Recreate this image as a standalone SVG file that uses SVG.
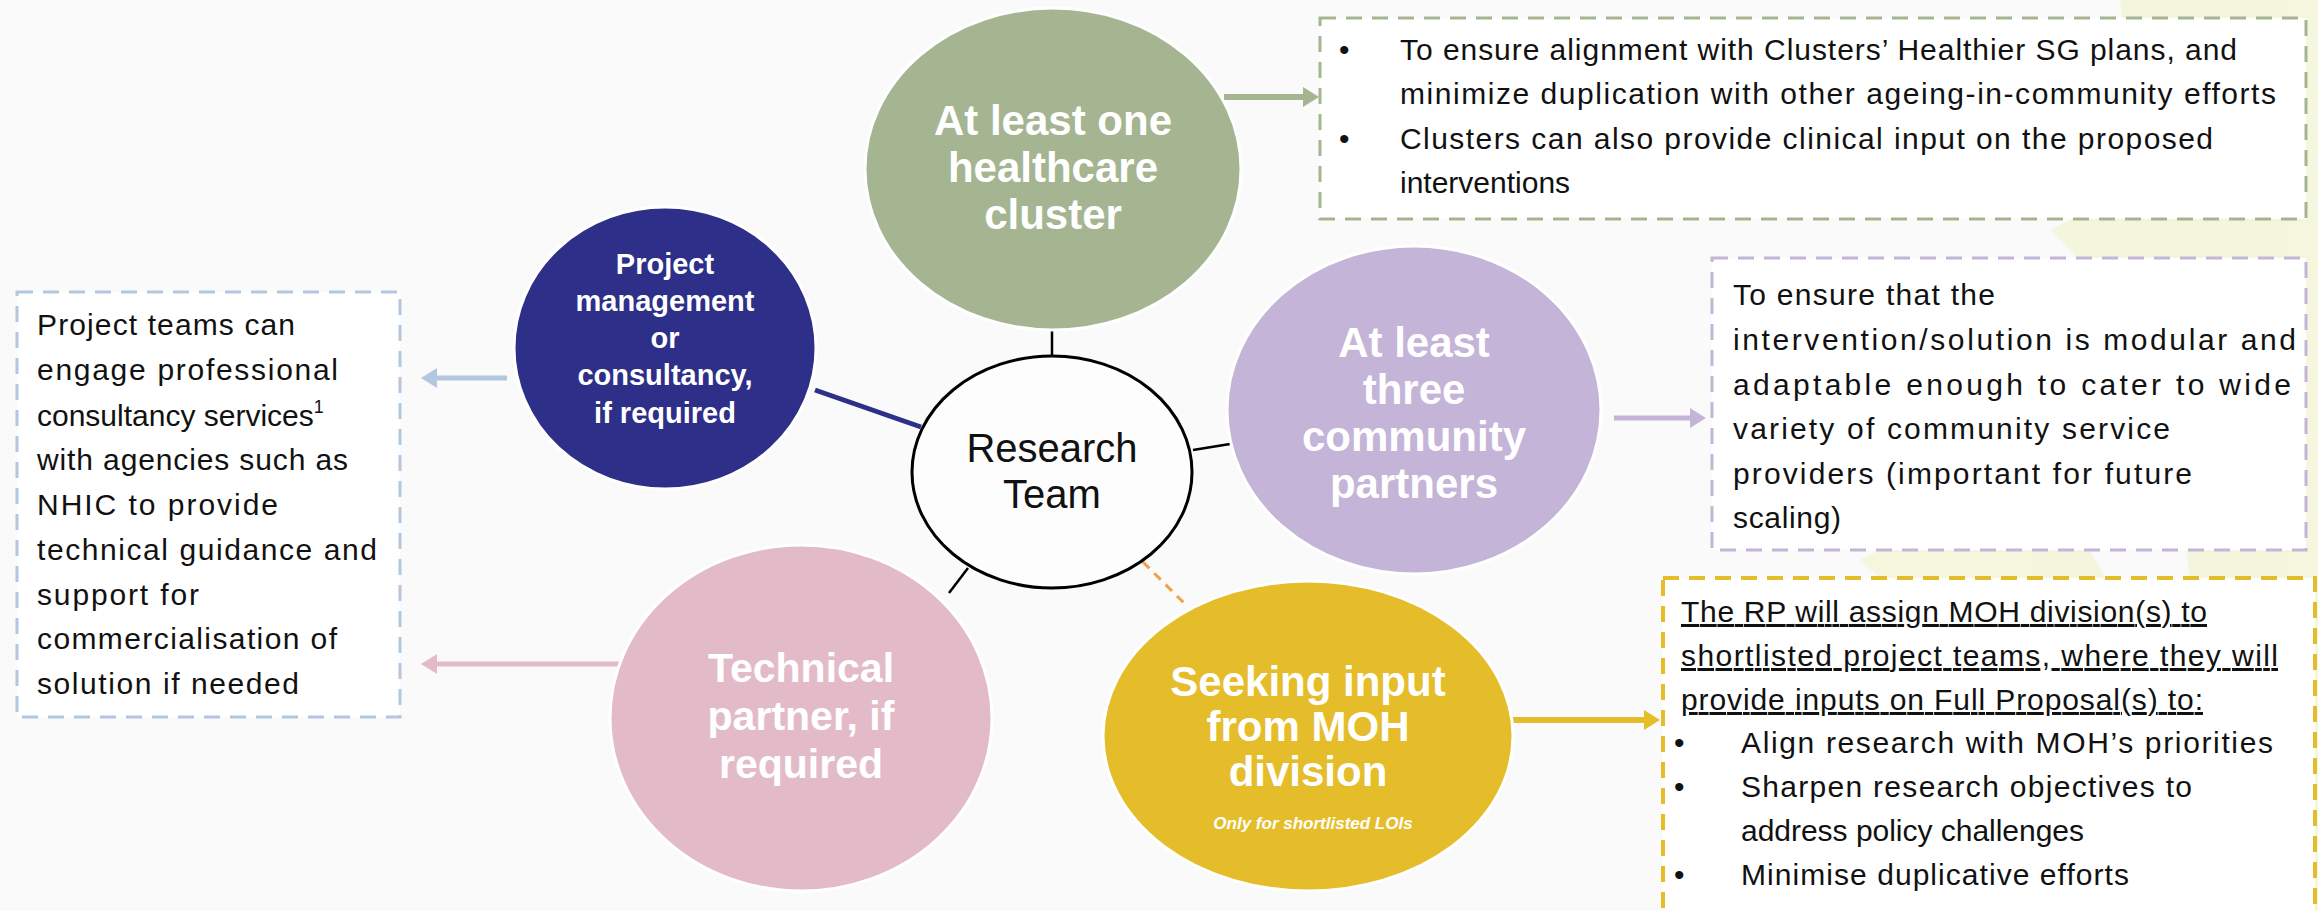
<svg xmlns="http://www.w3.org/2000/svg" width="2318" height="911" viewBox="0 0 2318 911">
<style>
.bx{font-family:"Liberation Sans",Arial,sans-serif;font-size:30px;fill:#111}
.lbl{font-family:"Liberation Sans",Arial,sans-serif;font-weight:bold;fill:#fff;text-anchor:middle}
.ul{text-decoration:underline}
.dash{fill:#fff;stroke-width:3;stroke-dasharray:16 10}
.node{stroke:#fff;stroke-width:3}
.conn{fill:none;stroke:#000;stroke-width:2.5}
</style>
<defs>
<marker id="ahG" viewBox="0 0 16 20" refX="0" refY="10" markerWidth="16" markerHeight="20" markerUnits="userSpaceOnUse" orient="auto"><path d="M0,0 L16,10 L0,20 z" fill="#A5B592"/></marker>
<marker id="ahP" viewBox="0 0 16 20" refX="0" refY="10" markerWidth="16" markerHeight="20" markerUnits="userSpaceOnUse" orient="auto"><path d="M0,0 L16,10 L0,20 z" fill="#C4B5D8"/></marker>
<marker id="ahY" viewBox="0 0 16 20" refX="0" refY="10" markerWidth="16" markerHeight="20" markerUnits="userSpaceOnUse" orient="auto"><path d="M0,0 L16,10 L0,20 z" fill="#E5BD2A"/></marker>
<marker id="ahB" viewBox="0 0 16 20" refX="0" refY="10" markerWidth="16" markerHeight="20" markerUnits="userSpaceOnUse" orient="auto"><path d="M0,0 L16,10 L0,20 z" fill="#B4C7E0"/></marker>
<marker id="ahK" viewBox="0 0 16 20" refX="0" refY="10" markerWidth="16" markerHeight="20" markerUnits="userSpaceOnUse" orient="auto"><path d="M0,0 L16,10 L0,20 z" fill="#E3BBC8"/></marker>
</defs>
<rect width="2318" height="911" fill="#FAFAFA"/>
<g id="background" opacity="0.55">
<path d="M2120,0 L2318,0 L2318,911 L2230,911 Z" fill="#EEF3C4"/>
<path d="M1860,560 L2040,470 L2120,600 L1950,640 Z" fill="#EEF3C4"/>
<path d="M2050,230 L2150,180 L2200,260 L2100,280 Z" fill="#EEF3C4"/>
</g>
<g id="connectors">
<line class="conn" x1="1052" y1="330" x2="1052" y2="357"/>
<line class="conn" x1="1193" y1="450" x2="1230" y2="444"/>
<line class="conn" x1="968" y1="568" x2="949" y2="593"/>
<line x1="815" y1="390" x2="921" y2="427" stroke="#2E3088" stroke-width="5"/>
<line x1="1143" y1="562" x2="1187" y2="606" stroke="#F4A04A" stroke-width="3" stroke-dasharray="9 7"/>
<line x1="1224" y1="97" x2="1303" y2="97" stroke="#A5B592" stroke-width="6" marker-end="url(#ahG)"/>
<line x1="1614" y1="418" x2="1690" y2="418" stroke="#C4B5D8" stroke-width="5" marker-end="url(#ahP)"/>
<line x1="1512" y1="720" x2="1644" y2="720" stroke="#E5BD2A" stroke-width="6" marker-end="url(#ahY)"/>
<line x1="507" y1="378" x2="437" y2="378" stroke="#B4C7E0" stroke-width="5" marker-end="url(#ahB)"/>
<line x1="647" y1="664" x2="437" y2="664" stroke="#E3BBC8" stroke-width="5" marker-end="url(#ahK)"/>
</g>
<g id="research-team">
<ellipse cx="1052" cy="472" rx="140" ry="116" fill="#FDFDFD" stroke="#000" stroke-width="3"/>
<text x="1052" y="462" text-anchor="middle" font-family="Liberation Sans,Arial,sans-serif" font-size="40" fill="#111">Research</text>
<text x="1052" y="508" text-anchor="middle" font-family="Liberation Sans,Arial,sans-serif" font-size="40" fill="#111">Team</text>
</g>
<g id="cluster">
<ellipse class="node" cx="1053" cy="169" rx="188" ry="161" fill="#A5B592"/>
<text class="lbl" x="1053" y="135" font-size="42">At least one</text>
<text class="lbl" x="1053" y="182" font-size="42">healthcare</text>
<text class="lbl" x="1053" y="229" font-size="42">cluster</text>
</g>
<g id="community">
<ellipse class="node" cx="1414" cy="410" rx="187" ry="164" fill="#C4B5D8"/>
<text class="lbl" x="1414" y="357" font-size="42">At least</text>
<text class="lbl" x="1414" y="404" font-size="42">three</text>
<text class="lbl" x="1414" y="451" font-size="42">community</text>
<text class="lbl" x="1414" y="498" font-size="42">partners</text>
</g>
<g id="moh">
<ellipse class="node" cx="1308" cy="736" rx="205" ry="155" fill="#E5BD2A"/>
<text class="lbl" x="1308" y="696" font-size="42">Seeking input</text>
<text class="lbl" x="1308" y="741" font-size="42">from MOH</text>
<text class="lbl" x="1308" y="786" font-size="42">division</text>
<text class="lbl" x="1313" y="829" font-size="17" font-style="italic" font-weight="normal">Only for shortlisted LOIs</text>
</g>
<g id="technical">
<ellipse class="node" cx="801" cy="718" rx="191" ry="173" fill="#E3BBC8"/>
<text class="lbl" x="801" y="682" font-size="41">Technical</text>
<text class="lbl" x="801" y="730" font-size="41">partner, if</text>
<text class="lbl" x="801" y="778" font-size="41">required</text>
</g>
<g id="project-mgmt">
<ellipse class="node" cx="665" cy="348" rx="151" ry="141" fill="#2E2F88"/>
<text class="lbl" x="665" y="274" font-size="29">Project</text>
<text class="lbl" x="665" y="311" font-size="29">management</text>
<text class="lbl" x="665" y="348" font-size="29">or</text>
<text class="lbl" x="665" y="385" font-size="29">consultancy,</text>
<text class="lbl" x="665" y="423" font-size="29">if required</text>
</g>
<g id="cluster-note">
<rect class="dash" x="1320" y="18" width="986" height="201" stroke="#A5B592"/>
<text class="bx" x="1339" y="60">•</text>
<text class="bx" x="1339" y="149">•</text>
<text class="bx" x="1400" y="60" textLength="837">To ensure alignment with Clusters’ Healthier SG plans, and</text>
<text class="bx" x="1400" y="104" textLength="876">minimize duplication with other ageing-in-community efforts</text>
<text class="bx" x="1400" y="149" textLength="813">Clusters can also provide clinical input on the proposed</text>
<text class="bx" x="1400" y="193">interventions</text>
</g>
<g id="community-note">
<rect class="dash" x="1712" y="258" width="594" height="292" stroke="#C4B5D8"/>
<text class="bx" x="1733" y="305" textLength="262">To ensure that the</text>
<text class="bx" x="1733" y="350" textLength="563">intervention/solution is modular and</text>
<text class="bx" x="1733" y="395" textLength="558">adaptable enough to cater to wide</text>
<text class="bx" x="1733" y="439" textLength="437">variety of community service</text>
<text class="bx" x="1733" y="484" textLength="459">providers (important for future</text>
<text class="bx" x="1733" y="528" textLength="108">scaling)</text>
</g>
<g id="moh-note">
<rect x="1663" y="578" width="652" height="345" fill="#fff" stroke="#E5BD2A" stroke-width="4" stroke-dasharray="16 10"/>
<text class="bx ul" x="1681" y="622" textLength="526">The RP will assign MOH division(s) to</text>
<text class="bx ul" x="1681" y="666" textLength="597">shortlisted project teams, where they will</text>
<text class="bx ul" x="1681" y="710" textLength="522">provide inputs on Full Proposal(s) to:</text>
<text class="bx" x="1674" y="753">•</text>
<text class="bx" x="1674" y="797">•</text>
<text class="bx" x="1674" y="885">•</text>
<text class="bx" x="1741" y="753" textLength="532">Align research with MOH’s priorities</text>
<text class="bx" x="1741" y="797" textLength="451">Sharpen research objectives to</text>
<text class="bx" x="1741" y="841" textLength="343">address policy challenges</text>
<text class="bx" x="1741" y="885" textLength="388">Minimise duplicative efforts</text>
</g>
<g id="consultancy-note">
<rect class="dash" x="17" y="292" width="383" height="425" stroke="#B4C7E0"/>
<text class="bx" x="37" y="335" textLength="258">Project teams can</text>
<text class="bx" x="37" y="380" textLength="301">engage professional</text>
<text class="bx" x="37" y="426">consultancy services<tspan dy="-13" font-size="18">1</tspan></text>
<text class="bx" x="37" y="470" textLength="311">with agencies such as</text>
<text class="bx" x="37" y="515" textLength="241">NHIC to provide</text>
<text class="bx" x="37" y="560" textLength="340">technical guidance and</text>
<text class="bx" x="37" y="605" textLength="162">support for</text>
<text class="bx" x="37" y="649" textLength="300">commercialisation of</text>
<text class="bx" x="37" y="694" textLength="262">solution if needed</text>
</g>
</svg>
